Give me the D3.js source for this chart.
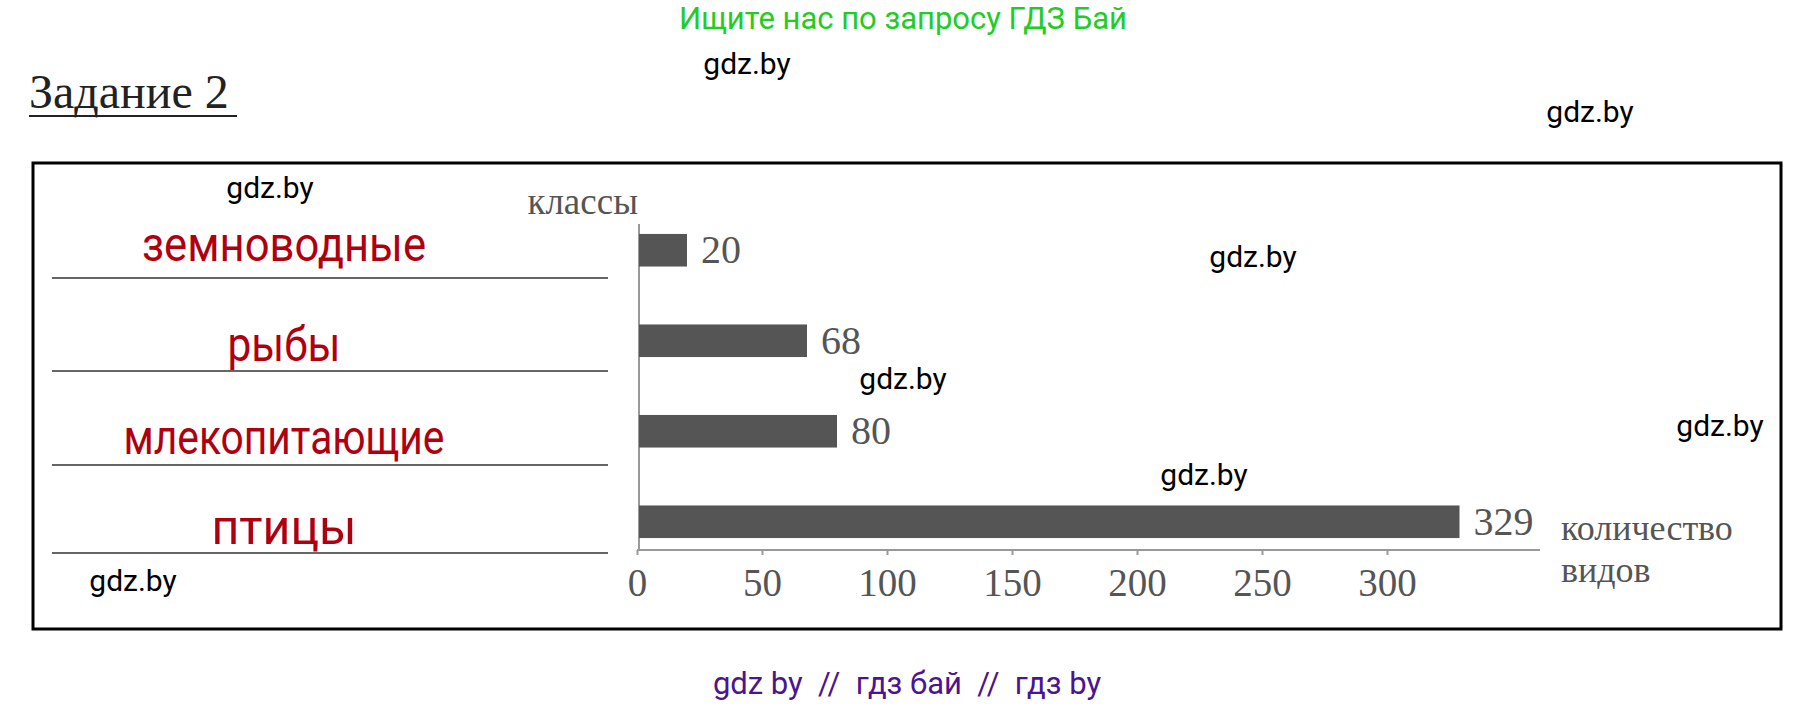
<!DOCTYPE html>
<html>
<head>
<meta charset="utf-8">
<script src="https://cdn.jsdelivr.net/npm/d3@7"></script>
<style>
  body { margin: 0; background: #fff; }
  svg text.wm { font-family: Roboto, sans-serif; font-size: 30px; fill: #000; }
</style>
</head>
<body>
<div class="canvas"></div>
<script>
// chart data
const classes = ['земноводные', 'рыбы', 'млекопитающие', 'птицы'];
const species = [20, 68, 80, 329];
const ticks = [0, 50, 100, 150, 200, 250, 300];

const svg = d3.select('.canvas')
  .append('svg')
  .attr('width', 1807)
  .attr('height', 705);

// header texts
svg.append('text')
  .attr('x', 903).attr('y', 29)
  .attr('text-anchor', 'middle')
  .style('font-family', 'Roboto, sans-serif').style('font-size', '31px')
  .attr('fill', '#22cc22')
  .text('Ищите нас по запросу ГДЗ Бай');

svg.append('text')
  .attr('x', 29).attr('y', 108)
  .style('font-family', '"Liberation Serif", serif').style('font-size', '48px')
  .attr('fill', '#222')
  .text('Задание 2');
svg.append('line')
  .attr('x1', 29).attr('x2', 237).attr('y1', 116).attr('y2', 116)
  .attr('stroke', '#222').attr('stroke-width', 2);

// frame
svg.append('rect')
  .attr('x', 33).attr('y', 163).attr('width', 1748).attr('height', 466)
  .attr('fill', 'none').attr('stroke', '#000').attr('stroke-width', 3);

// scales
const x = d3.scaleLinear().domain([0, 300]).range([637, 1387]);
const y = d3.scaleBand().domain(classes).range([205, 567]).paddingInner(0.64).paddingOuter(0.32);

const graph = svg.append('g');

// axes lines
graph.append('line')
  .attr('x1', 639).attr('x2', 639).attr('y1', 224).attr('y2', 551)
  .attr('stroke', '#999').attr('stroke-width', 2);

const xAxis = d3.axisBottom(x).tickValues(ticks).tickSize(5).tickSizeOuter(0);
const gx = graph.append('g')
  .attr('transform', 'translate(0, 550)')
  .call(xAxis);
gx.select('.domain').attr('d', 'M637,0H1540').attr('stroke', '#999').attr('stroke-width', 2);
gx.selectAll('.tick line').attr('stroke', '#999').attr('stroke-width', 2);
gx.selectAll('.tick text')
  .attr('y', 18)
  .style('font-family', '"Liberation Serif", serif').style('font-size', '39px')
  .attr('fill', '#555');

// bars
graph.selectAll('rect.bar')
  .data(species)
  .enter()
  .append('rect')
  .attr('class', 'bar')
  .attr('x', x(0) + 2)
  .attr('y', (d, i) => y(classes[i]))
  .attr('width', d => x(d) - x(0) - 2)
  .attr('height', y.bandwidth())
  .attr('fill', '#555');

// value labels
graph.selectAll('text.val')
  .data(species)
  .enter()
  .append('text')
  .attr('class', 'val')
  .attr('x', d => x(d) + 14)
  .attr('y', (d, i) => y(classes[i]) + y.bandwidth() / 2 + 13)
  .style('font-family', '"Liberation Serif", serif').style('font-size', '40px')
  .attr('fill', '#555')
  .text(d => d);

graph.append('text')
  .attr('x', 638).attr('y', 214)
  .attr('text-anchor', 'end')
  .style('font-family', '"Liberation Serif", serif').style('font-size', '37px')
  .attr('fill', '#555')
  .text('классы');

graph.append('text')
  .attr('x', 1561).attr('y', 540)
  .style('font-family', '"Liberation Serif", serif').style('font-size', '36px')
  .attr('fill', '#555')
  .text('количество');
graph.append('text')
  .attr('x', 1561).attr('y', 582)
  .style('font-family', '"Liberation Serif", serif').style('font-size', '36px')
  .attr('fill', '#555')
  .text('видов');

// category answers with underlines
const labelY = [245, 345, 438, 528];
const labelW = [284, 113, 321, 145];
const lineY = [278, 371, 465, 553];
graph.selectAll('text.cat')
  .data(classes)
  .enter()
  .append('text')
  .attr('class', 'cat')
  .attr('x', 284)
  .attr('y', (d, i) => labelY[i] + 16)
  .attr('text-anchor', 'middle')
  .style('font-family', 'Roboto, sans-serif').style('font-size', '48px')
  .attr('textLength', (d, i) => labelW[i])
  .attr('lengthAdjust', 'spacingAndGlyphs')
  .attr('fill', '#b00010')
  .text(d => d);
graph.selectAll('line.under')
  .data(lineY)
  .enter()
  .append('line')
  .attr('class', 'under')
  .attr('x1', 52).attr('x2', 608)
  .attr('y1', d => d).attr('y2', d => d)
  .attr('stroke', '#666').attr('stroke-width', 2);

// watermarks
const marks = [[747, 64], [1590, 112], [270, 188], [1253, 257], [903, 379], [1720, 426], [1204, 475], [133, 581]];
svg.selectAll('text.wm')
  .data(marks)
  .enter()
  .append('text')
  .attr('class', 'wm')
  .attr('x', d => d[0]).attr('y', d => d[1] + 10)
  .attr('text-anchor', 'middle')
  .text('gdz.by');

svg.append('text')
  .attr('x', 907).attr('y', 694)
  .attr('text-anchor', 'middle')
  .style('font-family', 'Roboto, sans-serif').style('font-size', '31px')
  .attr('fill', '#4b1590')
  .attr('xml:space', 'preserve')
  .text('gdz by  //  гдз бай  //  гдз by');
</script>
</body>
</html>
